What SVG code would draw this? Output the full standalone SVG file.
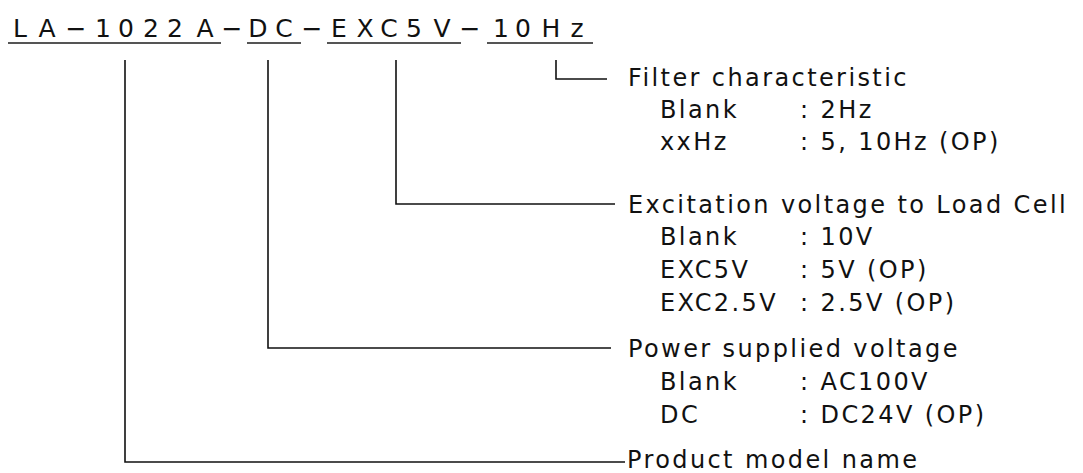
<svg xmlns="http://www.w3.org/2000/svg" width="1083" height="473" viewBox="0 0 1083 473">
<style>
text{font-family:"DejaVu Sans","Liberation Sans",sans-serif;font-size:24px;fill:#111;letter-spacing:2.4px}
.code{font-size:25px;text-anchor:middle;letter-spacing:0}
.ul{stroke:#555;stroke-width:2;fill:none}
.c{stroke:#111;stroke-width:1.6;fill:none}
</style>
<rect width="1083" height="473" fill="#fff"/>
<g id="code">
<text class="code" x="20 47 76 103 126 151 175 205 232 258 284 312 339 365 389 414 442 470 501 523 551 577" y="37">LA−1022A−DC−EXC5V−10Hz</text>
<line class="ul" x1="8" y1="43" x2="221" y2="43"/>
<line class="ul" x1="247" y1="43" x2="301" y2="43"/>
<line class="ul" x1="327" y1="43" x2="461" y2="43"/>
<line class="ul" x1="487" y1="43" x2="593" y2="43"/>
</g>
<g id="connectors">
<polyline class="c" points="556,60 556,79 607,79"/>
<polyline class="c" points="396,60 396,204 615,204"/>
<polyline class="c" points="268,60 268,348 611,348"/>
<polyline class="c" points="125,60 125,462 625,462"/>
</g>
<g id="filter">
<text x="628" y="86">Filter characteristic</text>
<text x="660" y="118">Blank</text><text x="800" y="118">: 2Hz</text>
<text x="660" y="150">xxHz</text><text x="800" y="150">: 5, 10Hz (OP)</text>
</g>
<g id="excitation">
<text x="628" y="213">Excitation voltage to Load Cell</text>
<text x="660" y="245">Blank</text><text x="800" y="245">: 10V</text>
<text x="660" y="278">EXC5V</text><text x="800" y="278">: 5V (OP)</text>
<text x="660" y="311">EXC2.5V</text><text x="800" y="311">: 2.5V (OP)</text>
</g>
<g id="power">
<text x="628" y="357">Power supplied voltage</text>
<text x="660" y="390">Blank</text><text x="800" y="390">: AC100V</text>
<text x="660" y="423">DC</text><text x="800" y="423">: DC24V (OP)</text>
</g>
<g id="product">
<text x="627" y="468">Product model name</text>
</g>
</svg>
